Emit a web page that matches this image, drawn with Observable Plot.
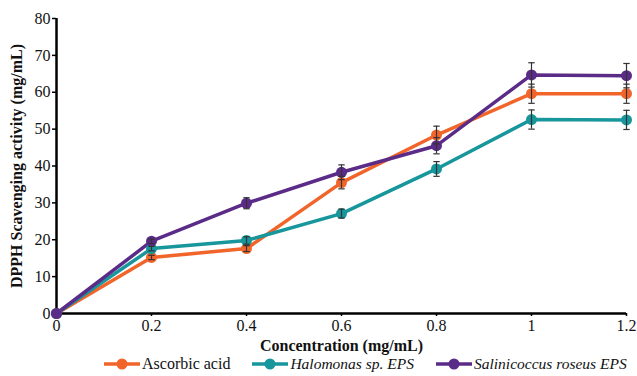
<!DOCTYPE html>
<html>
<head>
<meta charset="utf-8">
<script src="https://cdn.jsdelivr.net/npm/d3@7"></script>
<script src="https://cdn.jsdelivr.net/npm/@observablehq/plot@0.6"></script>
<style>
  html, body { margin: 0; padding: 0; background: #fff; }
  body { width: 637px; height: 376px; overflow: hidden; font-family: "Liberation Serif", "Times New Roman", serif; }
  #legend { display: flex; align-items: center; height: 20px; margin-top: -2px; padding-left: 103px; font-size: 16px; color: #111; white-space: nowrap; }
  .item { display: flex; align-items: center; margin-right: 21px; flex: none; }
  .item:last-child { margin-right: 0; }
  .item svg { margin-right: 1px; }
  .it { font-style: italic; font-size: 15.5px; }
  svg text { font-family: "Liberation Serif", "Times New Roman", serif; }
</style>
</head>
<body>
<div id="chart"></div>
<div id="legend"></div>
<script>
const concentrations = [0, 0.2, 0.4, 0.6, 0.8, 1.0, 1.2];
const seriesNames = ["Ascorbic acid", "Halomonas sp. EPS", "Salinicoccus roseus EPS"];
const ascorbic =      [0, 15.2, 17.6, 35.5, 48.4, 59.6, 59.6];
const ascorbicErr =   [0, 0.6, 0.8, 1.7, 2.4, 2.6, 2.6];
const halomonas =     [0, 17.6, 19.8, 27.1, 39.2, 52.6, 52.5];
const halomonasErr =  [0, 0.6, 1.0, 1.2, 2.0, 2.6, 2.6];
const salinicoccus =  [0, 19.6, 29.9, 38.3, 45.5, 64.7, 64.5];
const salinicoccusErr=[0, 0.6, 1.5, 2.0, 2.2, 3.3, 3.3];
const colors = ["#f1652b", "#17969c", "#5b2b88"];
const xTicks = [0, 0.2, 0.4, 0.6, 0.8, 1, 1.2];
const yTicks = [0, 10, 20, 30, 40, 50, 60, 70, 80];

const values = [ascorbic, halomonas, salinicoccus];
const errs = [ascorbicErr, halomonasErr, salinicoccusErr];
const data = [];
seriesNames.forEach((s, i) => {
  concentrations.forEach((c, j) => {
    data.push({series: s, x: c, y: values[i][j], e: errs[i][j]});
  });
});
const errData = data.filter(d => d.e > 0);

const cap = { draw(context, size) { const r = 3.2; context.moveTo(-r, 0); context.lineTo(r, 0); } };
const fmt = d => String(+d.toFixed(1));

const plot = Plot.plot({
  width: 637,
  height: 356,
  marginLeft: 56,
  marginRight: 11,
  marginTop: 18,
  marginBottom: 43,
  style: { fontFamily: "'Liberation Serif', 'Times New Roman', serif", fontSize: "16px", color: "#111", background: "#fff", overflow: "visible" },
  x: { domain: [0, 1.2], label: null },
  y: { domain: [0, 80], label: null },
  color: { domain: seriesNames, range: colors },
  marks: [
    Plot.axisX({ticks: xTicks, tickFormat: fmt, tickSize: 3, tickPadding: 3, fontSize: 16, stroke: "#000", strokeWidth: 1.5}),
    Plot.axisY({ticks: yTicks, tickSize: 4, tickPadding: 2, fontSize: 16, stroke: "#000", strokeWidth: 1.5}),
    Plot.ruleY([0], {stroke: "#000", strokeWidth: 2.5}),
    Plot.ruleX([0], {stroke: "#000", strokeWidth: 2.5}),
    Plot.line(data, {x: "x", y: "y", z: "series", stroke: "series", strokeWidth: 3.5}),
    Plot.dot(data, {x: "x", y: "y", fill: "series", r: 5.5}),
    Plot.ruleX(errData, {x: "x", y1: d => d.y - d.e, y2: d => d.y + d.e, stroke: "#333", strokeWidth: 1.2}),
    Plot.dot(errData, {x: "x", y: d => d.y + d.e, symbol: cap, stroke: "#333", strokeWidth: 1.2, fill: "none"}),
    Plot.dot(errData, {x: "x", y: d => d.y - d.e, symbol: cap, stroke: "#333", strokeWidth: 1.2, fill: "none"}),
    Plot.text(["Concentration (mg/mL)"], {frameAnchor: "bottom", lineAnchor: "middle", dy: 32, fontWeight: "bold", fontSize: 16, fill: "#111"}),
    Plot.text(["DPPH Scavenging activity (mg/mL)"], {frameAnchor: "left", textAnchor: "middle", lineAnchor: "middle", dx: -40, rotate: -90, fontWeight: "bold", fontSize: 16, fill: "#111"})
  ]
});
document.getElementById("chart").appendChild(plot);

const legend = document.getElementById("legend");
seriesNames.forEach((s, i) => {
  const item = document.createElement("div");
  item.className = "item";
  item.innerHTML = `<svg width="38" height="14"><line x1="1" x2="37" y1="7" y2="7" stroke="${colors[i]}" stroke-width="3.5"/><circle cx="19" cy="7" r="5.5" fill="${colors[i]}"/></svg><span class="${i > 0 ? "it" : ""}">${s}</span>`;
  legend.appendChild(item);
});
</script>
</body>
</html>
